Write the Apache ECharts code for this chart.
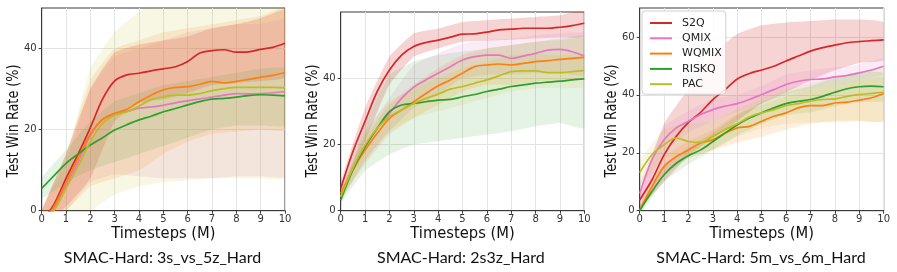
<!DOCTYPE html>
<html><head><meta charset="utf-8">
<script src="https://cdn.jsdelivr.net/npm/echarts@6/dist/echarts.min.js"></script>
<style>html,body{margin:0;padding:0;background:#fff}#c{width:897px;height:272px}</style>
</head><body><div id="c"></div><script>
// x positions
const xs = [0,0.5,1,1.5,2,2.5,3,3.5,4,4.5,5,5.5,6,6.5,7,7.5,8,8.5,9,9.5,10];
const bx = [0,1,2,3,4,5,6,7,8,9,10];
const seriesNames = ['S2Q','QMIX','WQMIX','RISKQ','PAC'];
const panelTitles = ['SMAC-Hard: 3s_vs_5z_Hard','SMAC-Hard: 2s3z_Hard','SMAC-Hard: 5m_vs_6m_Hard'];
const yMax = [50, 60, 70];
const yTicks = [0, 20, 40, 60];

// Panel 1: 3s_vs_5z_Hard (means)
const p1_S2Q   = [-2.5,1.5,8,14,20.5,27.5,32,33.5,33.9,34.5,35,35.5,36.8,38.9,39.5,39.7,39.1,39.2,39.8,40.3,41.3];
const p1_QMIX  = [-3,0.5,6.3,12,18.5,22.5,24,24.5,25.3,25.6,26,26.6,27.1,27.6,28,28.5,28.9,28.8,28.9,29.1,29.4];
const p1_WQMIX = [-3,1,7,13,19,22.5,24,25,26.9,28.5,29.8,30.4,30.6,31.2,31.9,31.5,31.9,32.4,32.9,33.4,34.1];
const p1_RISKQ = [5.5,8.6,11.7,14,16.2,18,19.9,21.2,22.4,23.3,24.4,25.2,26.1,26.9,27.5,27.7,28,28.4,28.6,28.5,28.3];
const p1_PAC   = [-3,0,5.5,11,17,21.5,23.6,24.4,25.8,27.4,28.1,28.5,28.5,28.9,29.6,30.1,30.4,30.4,30.4,30.4,30.3];
// Panel 1 bands (at bx)
const p1_S2Q_lo   = [-3,1,8,22,26.5,27.5,29,31,31.5,32,33];
const p1_S2Q_hi   = [0,14,30,39,41,42,43,45,46,47.5,49.5];
const p1_QMIX_lo  = [-3,0,7,9,8.5,8,8,8,8.5,8.5,8.5];
const p1_QMIX_hi  = [0,12,30,38,40,42,44,45,46,46,47];
const p1_WQMIX_lo = [-3,0,6,8,10,14,17,19,19.5,20,20];
const p1_WQMIX_hi = [0,14,32,40,42,44,45,46,47,48,50];
const p1_RISKQ_lo = [3,7,10,12,14,16,18,20,21,21,21];
const p1_RISKQ_hi = [8,15,22,27,29,31,32,33,34,35,35];
const p1_PAC_lo   = [-3,-2,0,4,6,7,7.5,8,8,8,8];
const p1_PAC_hi   = [0,13,35,44,49,52,53,54,54,54,54];

// Panel 2: 2s3z_Hard (means)
const p2_S2Q   = [6.7,17.8,27,36,42.5,47,49.6,50.8,51.5,52.4,53.3,53.4,53.9,54.6,54.8,55.1,55.1,55.1,55.4,55.9,56.6];
const p2_QMIX  = [4.2,12.8,19.3,24.9,29.4,33.9,37.3,39.5,41.5,43.5,45.5,46.5,47,47,46,46.7,47.5,48.5,48.7,48,46.7];
const p2_WQMIX = [5.2,12.3,18.3,23.4,27.9,30.4,32.9,35.4,37.7,39.5,41.5,43.5,44,44.3,44,44.5,45,45.3,45.7,46,46.3];
const p2_RISKQ = [3.2,12.3,19.3,24.9,29.9,31.9,32.4,32.9,33.4,33.6,34.4,35.1,36,36.7,37.5,38,38.5,38.8,39.1,39.5,39.8];
const p2_PAC   = [4.2,12.8,19.8,24.9,28.4,30.4,32.4,33.9,35.2,36.7,37.5,38.5,39.5,40.7,42,42.2,42.2,41.7,41.7,42,42.3];
// Panel 2 bands
const p2_S2Q_lo   = [5,21,38,46.5,49,51,51.3,51.6,52,52.3,52.6];
const p2_S2Q_hi   = [8.5,31,46.5,53.5,55,57,57.5,58,58.5,59,60.5];
const p2_QMIX_lo  = [3,15,24,31,35,40,41,41,41.5,41.5,41];
const p2_QMIX_hi  = [5.5,23,34,44,47.5,50.5,51.5,52,53,53.5,53.5];
const p2_WQMIX_lo = [4,14,23,28,32,36,38,38,39,39.5,40];
const p2_WQMIX_hi = [6.5,22,32,38,43,47,49,50,51,51.5,52];
const p2_RISKQ_lo = [2.5,12,17,20,21,22,23,24,25.5,26.5,25];
const p2_RISKQ_hi = [4,26,41,45,47,48,49,50,51,52,52.5];
const p2_PAC_lo   = [3,15,24,28,30,32,34,36,37,37,37.5];
const p2_PAC_hi   = [5.5,24,33,37,40,43,45,47,47.5,47,47];

// Panel 3: 5m_vs_6m_Hard (means)
const p3_S2Q   = [3.7,10.6,19.3,25.7,30.5,34,38.4,41.8,45.5,47.4,48.6,49.9,51.7,53.4,55.1,56.3,57.2,58,58.4,58.7,59];
const p3_QMIX  = [6,17.6,24.5,28.6,30.9,33.2,34.9,36.1,37,38.4,40.1,41.8,43.6,44.7,45.3,45.5,46.2,46.7,47.6,48.6,49.9];
const p3_WQMIX = [0.2,8.3,15.3,18.7,21,23.4,24.5,26.8,28.6,29.1,30.9,32.6,33.8,35.5,36.3,36.3,37.2,37.5,38.2,39,40.5];
const p3_RISKQ = [0,6.6,12.4,16.4,19,21,23.9,26.8,29.7,32,33.8,35.5,37,37.8,38.4,39.5,40.9,42.1,42.8,43,42.8];
const p3_PAC   = [13.2,19.3,22.8,25.1,23.9,23.6,25.7,28,30,32.4,33.8,34.9,36.3,37,37.8,38.4,38.6,39.5,40.1,40.5,40.9];
// Panel 3 bands
const p3_S2Q_lo   = [1,10,19,25,31,37,41,45,48.5,51,52];
const p3_S2Q_hi   = [6,30,42,54,61,64,65,65.5,66,66,65];
const p3_QMIX_lo  = [3,20,27,31,34,37,40,42,43.5,45,47];
const p3_QMIX_hi  = [9,29,34.5,38.5,40,43,47,48.5,49.5,50.5,52.5];
const p3_WQMIX_lo = [-1,12,18,21,23.5,25.5,28,30,31,31,31];
const p3_WQMIX_hi = [1.5,18.5,24,28,33.5,36.5,39.5,42,43.5,45,46];
const p3_RISKQ_lo = [-1,10,16,21,26,30,33,34,36,37.5,38];
const p3_RISKQ_hi = [1.5,15,22,27,33,37.5,41,43,46,48,47.5];
const p3_PAC_lo   = [9,18,19,21,25.5,28.5,30,30.5,30.5,31,31];
const p3_PAC_hi   = [17,28,30,31,35,39,42,44,46,48,49];

const colors = ['#d62728','#e377c2','#ff7f0e','#2ca02c','#bcbd22'];
const bandColors = ['rgba(214,39,40,0.2)','rgba(227,119,194,0.15)','rgba(255,127,14,0.14)','rgba(44,160,44,0.12)','rgba(188,189,34,0.12)'];

const means = [
  [p1_S2Q,p1_QMIX,p1_WQMIX,p1_RISKQ,p1_PAC],
  [p2_S2Q,p2_QMIX,p2_WQMIX,p2_RISKQ,p2_PAC],
  [p3_S2Q,p3_QMIX,p3_WQMIX,p3_RISKQ,p3_PAC]
];
const los = [
  [p1_S2Q_lo,p1_QMIX_lo,p1_WQMIX_lo,p1_RISKQ_lo,p1_PAC_lo],
  [p2_S2Q_lo,p2_QMIX_lo,p2_WQMIX_lo,p2_RISKQ_lo,p2_PAC_lo],
  [p3_S2Q_lo,p3_QMIX_lo,p3_WQMIX_lo,p3_RISKQ_lo,p3_PAC_lo]
];
const his = [
  [p1_S2Q_hi,p1_QMIX_hi,p1_WQMIX_hi,p1_RISKQ_hi,p1_PAC_hi],
  [p2_S2Q_hi,p2_QMIX_hi,p2_WQMIX_hi,p2_RISKQ_hi,p2_PAC_hi],
  [p3_S2Q_hi,p3_QMIX_hi,p3_WQMIX_hi,p3_RISKQ_hi,p3_PAC_hi]
];

const grids = [
  {left:41.7, top:8, width:243.3, height:202.7},
  {left:340.7, top:12, width:243.6, height:198.7},
  {left:639.7, top:8, width:244, height:202.7}
];
const tickFont = 'DejaVu Sans';

function bandRenderer(fill) {
  return function (params, api) {
    if (params.dataIndexInside !== 0) return;
    const n = params.dataInsideLength;
    const top = [], bot = [];
    for (let i = 0; i < n; i++) {
      const x = api.value(0, i);
      bot.push(api.coord([x, api.value(1, i)]));
      top.push(api.coord([x, api.value(2, i)]));
    }
    const cs = params.coordSys;
    return {
      type: 'polygon',
      shape: { points: bot.concat(top.reverse()), smooth: 0.15 },
      style: { fill: fill, stroke: null },
      clipPath: { type: 'rect', shape: { x: cs.x, y: cs.y, width: cs.width, height: cs.height } }
    };
  };
}

const option = {
  animation:false,
  backgroundColor:'#fff',
  grid: grids.map(g => Object.assign({show:true, borderColor:'#3a3a3a', borderWidth:1, backgroundColor:'transparent'}, g)),
  xAxis: grids.map((g,i)=>({
    type:'value', gridIndex:i, min:0, max:10, interval:1,
    axisLine:{show:true, lineStyle:{color:'#3a3a3a'}},
    axisTick:{show:true, length:3, lineStyle:{color:'#3a3a3a'}},
    axisLabel:{fontSize:10, color:'#333', margin:4, fontFamily:tickFont},
    splitLine:{show:true, lineStyle:{color:'#e3e3e3', width:1}}
  })),
  yAxis: grids.map((g,i)=>({
    type:'value', gridIndex:i, min:0, max:yMax[i], interval:20,
    axisLine:{show:true, lineStyle:{color:'#3a3a3a'}},
    axisTick:{show:true, length:3, lineStyle:{color:'#3a3a3a'}, customValues: yTicks.filter(v=>v<yMax[i])},
    axisLabel:{fontSize:10, color:'#333', margin:5, fontFamily:tickFont, customValues: yTicks.filter(v=>v<yMax[i])},
    splitLine:{show:true, lineStyle:{color:'#e3e3e3', width:1}}
  })),
  legend:{
    data: seriesNames, orient:'vertical', left:642, top:11,
    icon:'rect', itemWidth:22, itemHeight:2, itemGap:3.3,
    textStyle:{fontSize:11, color:'#222', fontFamily:'DejaVu Sans', lineHeight:12, padding:[0,0,0,5]},
    borderColor:'#d0d0d0', borderWidth:1, borderRadius:3, padding:[6,4,4,8],
    backgroundColor:'rgba(255,255,255,0.85)'
  },
  graphic: [],
  series: []
};

for (let p=0; p<3; p++) {
  for (let s=0; s<5; s++) {
    const lo = los[p][s], hi = his[p][s];
    option.series.push({
      type:'custom', name:seriesNames[s]+' band', xAxisIndex:p, yAxisIndex:p,
      silent:true, z:1,
      renderItem: bandRenderer(bandColors[s]),
      encode:{x:0, y:[1,2]},
      data: bx.map((x,k)=>[x, lo[k], hi[k]])
    });
  }
  for (let s=0; s<5; s++) {
    const m = means[p][s];
    option.series.push({
      type:'line', name:seriesNames[s], xAxisIndex:p, yAxisIndex:p,
      symbol:'none', smooth:0.3, z:3,
      color: colors[s],
      lineStyle:{color:colors[s], width:1.7},
      data: xs.map((x,k)=>[x, m[k]])
    });
  }
  const g = grids[p];
  const cx = g.left + g.width/2;
  option.graphic.push({
    type:'text', x:cx, y:234, scaleX:0.92,
    style:{text:'Timesteps (M)', font:'16px "DejaVu Sans"', fill:'#111', align:'center', verticalAlign:'middle'}
  });
  option.graphic.push({
    type:'text', x:g.left-28, y:121, rotation:Math.PI/2, scaleX:0.8,
    style:{text:'Test Win Rate (%)', font:'16px "DejaVu Sans"', fill:'#111', align:'center', verticalAlign:'middle'}
  });
  option.graphic.push({
    type:'text', x:[162.5,460.8,761][p], y:258,
    style:{text:panelTitles[p], font:'16px Lato', fill:'#111', align:'center', verticalAlign:'middle'}
  });
}

const chart = echarts.init(document.getElementById('c'));
chart.setOption(option);
</script></body></html>
